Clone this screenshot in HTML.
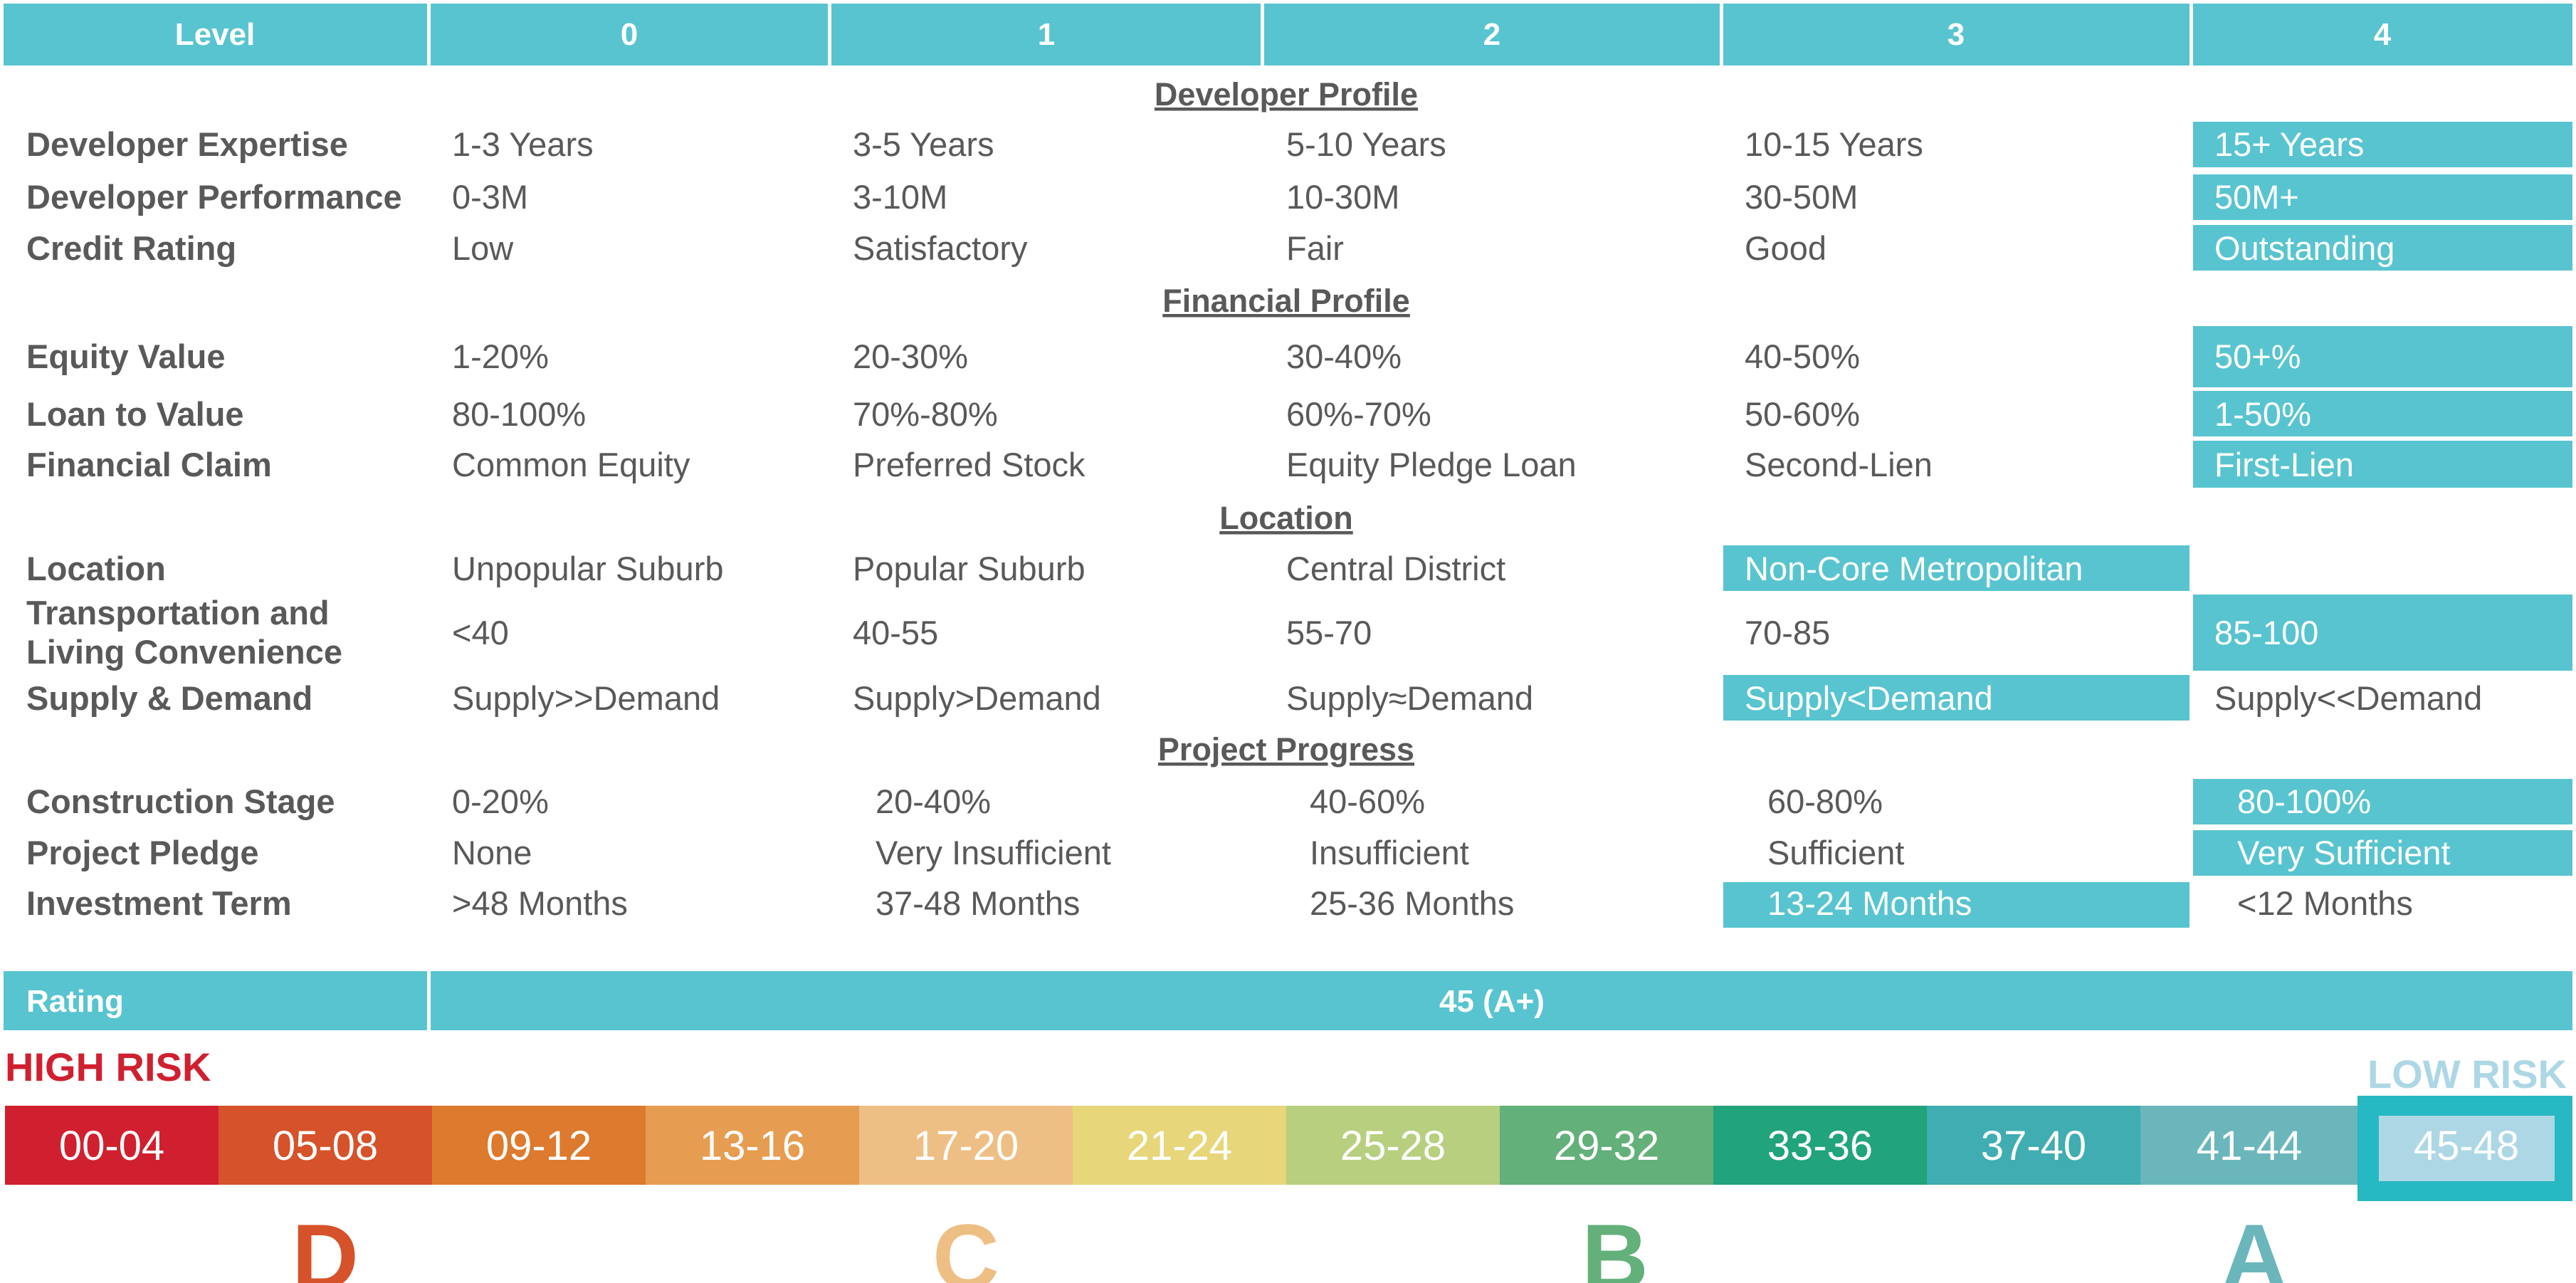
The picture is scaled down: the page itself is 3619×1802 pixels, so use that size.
<!DOCTYPE html>
<html><head><meta charset="utf-8"><style>html,body{margin:0;padding:0;background:#fff}svg{display:block}</style></head>
<body>
<svg width="3619" height="1802" viewBox="0 0 3619 1802" xmlns="http://www.w3.org/2000/svg" font-family="Liberation Sans, sans-serif">
<rect width="3619" height="1802" fill="#fff"/>
<g fill="#58c4cf">
<rect x="5" y="5" width="595" height="87"/><rect x="605" y="5" width="558" height="87"/><rect x="1168" y="5" width="603" height="87"/><rect x="1776" y="5" width="640" height="87"/><rect x="2421" y="5" width="655" height="87"/><rect x="3081" y="5" width="533" height="87"/>
<rect x="5" y="1364" width="595" height="83"/><rect x="605" y="1364" width="3009" height="83"/>
<rect x="3081" y="171" width="533" height="64"/><rect x="3081" y="245" width="533" height="64"/><rect x="3081" y="316" width="533" height="64"/>
<rect x="3081" y="458" width="533" height="86"/><rect x="3081" y="549" width="533" height="64"/><rect x="3081" y="619" width="533" height="66"/>
<rect x="2421" y="766" width="655" height="64"/><rect x="3081" y="835" width="533" height="107"/><rect x="2421" y="948" width="655" height="64"/>
<rect x="3081" y="1094" width="533" height="64"/><rect x="3081" y="1166" width="533" height="64"/><rect x="2421" y="1239" width="655" height="64"/>
</g>
<g fill="#fff" font-weight="bold" font-size="44" text-anchor="middle">
<text x="302" y="63">Level</text><text x="884" y="63">0</text><text x="1470" y="63">1</text><text x="2096" y="63">2</text><text x="2748" y="63">3</text><text x="3347" y="63">4</text>
<text x="2096" y="1421">45 (A+)</text>
<text x="37" y="1421" text-anchor="start">Rating</text>
</g>
<g fill="#595959" font-weight="bold" font-size="45" text-anchor="middle" text-decoration="underline">
<text x="1807" y="148">Developer Profile</text><text x="1807" y="438">Financial Profile</text><text x="1807" y="743">Location</text><text x="1807" y="1068">Project Progress</text>
</g>
<g fill="#595959" font-weight="bold" font-size="47">
<text x="37" y="219">Developer Expertise</text><text x="37" y="293">Developer Performance</text><text x="37" y="365">Credit Rating</text>
<text x="37" y="517">Equity Value</text><text x="37" y="598">Loan to Value</text><text x="37" y="669">Financial Claim</text>
<text x="37" y="815">Location</text><text x="37" y="877">Transportation and</text><text x="37" y="932">Living Convenience</text><text x="37" y="997">Supply &amp; Demand</text>
<text x="37" y="1142">Construction Stage</text><text x="37" y="1214">Project Pledge</text><text x="37" y="1285">Investment Term</text>
</g>
<g font-size="47" fill="#595959">
<text x="635" y="219">1-3 Years</text><text x="1198" y="219">3-5 Years</text><text x="1807" y="219">5-10 Years</text><text x="2451" y="219">10-15 Years</text><text x="3111" y="219" fill="#fff">15+ Years</text>
<text x="635" y="293">0-3M</text><text x="1198" y="293">3-10M</text><text x="1807" y="293">10-30M</text><text x="2451" y="293">30-50M</text><text x="3111" y="293" fill="#fff">50M+</text>
<text x="635" y="365">Low</text><text x="1198" y="365">Satisfactory</text><text x="1807" y="365">Fair</text><text x="2451" y="365">Good</text><text x="3111" y="365" fill="#fff">Outstanding</text>
<text x="635" y="517">1-20%</text><text x="1198" y="517">20-30%</text><text x="1807" y="517">30-40%</text><text x="2451" y="517">40-50%</text><text x="3111" y="517" fill="#fff">50+%</text>
<text x="635" y="598">80-100%</text><text x="1198" y="598">70%-80%</text><text x="1807" y="598">60%-70%</text><text x="2451" y="598">50-60%</text><text x="3111" y="598" fill="#fff">1-50%</text>
<text x="635" y="669">Common Equity</text><text x="1198" y="669">Preferred Stock</text><text x="1807" y="669">Equity Pledge Loan</text><text x="2451" y="669">Second-Lien</text><text x="3111" y="669" fill="#fff">First-Lien</text>
<text x="635" y="815">Unpopular Suburb</text><text x="1198" y="815">Popular Suburb</text><text x="1807" y="815">Central District</text><text x="2451" y="815" fill="#fff">Non-Core Metropolitan</text>
<text x="635" y="905">&lt;40</text><text x="1198" y="905">40-55</text><text x="1807" y="905">55-70</text><text x="2451" y="905">70-85</text><text x="3111" y="905" fill="#fff">85-100</text>
<text x="635" y="997">Supply&gt;&gt;Demand</text><text x="1198" y="997">Supply&gt;Demand</text><text x="1807" y="997">Supply≈Demand</text><text x="2451" y="997" fill="#fff">Supply&lt;Demand</text><text x="3111" y="997">Supply&lt;&lt;Demand</text>
<text x="635" y="1142">0-20%</text><text x="1230" y="1142">20-40%</text><text x="1840" y="1142">40-60%</text><text x="2483" y="1142">60-80%</text><text x="3143" y="1142" fill="#fff">80-100%</text>
<text x="635" y="1214">None</text><text x="1230" y="1214">Very Insufficient</text><text x="1840" y="1214">Insufficient</text><text x="2483" y="1214">Sufficient</text><text x="3143" y="1214" fill="#fff">Very Sufficient</text>
<text x="635" y="1285">&gt;48 Months</text><text x="1230" y="1285">37-48 Months</text><text x="1840" y="1285">25-36 Months</text><text x="2483" y="1285" fill="#fff">13-24 Months</text><text x="3143" y="1285">&lt;12 Months</text>
</g>
<text x="7" y="1518" font-size="56" font-weight="bold" fill="#d0202f">HIGH RISK</text>
<text x="3606" y="1528" font-size="56" font-weight="bold" fill="#add7e5" text-anchor="end">LOW RISK</text>
<g>
<rect x="7" y="1553" width="301" height="111" fill="#d0202f"/>
<rect x="307" y="1553" width="301" height="111" fill="#d5522a"/>
<rect x="607" y="1553" width="301" height="111" fill="#dd7a2e"/>
<rect x="907" y="1553" width="301" height="111" fill="#e69c51"/>
<rect x="1207" y="1553" width="301" height="111" fill="#eebf84"/>
<rect x="1507" y="1553" width="301" height="111" fill="#e7d67a"/>
<rect x="1807" y="1553" width="301" height="111" fill="#b7cf7f"/>
<rect x="2107" y="1553" width="301" height="111" fill="#63b07a"/>
<rect x="2407" y="1553" width="301" height="111" fill="#21a37b"/>
<rect x="2707" y="1553" width="301" height="111" fill="#3fadb1"/>
<rect x="3007" y="1553" width="305" height="111" fill="#6bb6bb"/>
<rect x="3312" y="1539" width="302" height="148" fill="#26b9c3"/>
<rect x="3342" y="1567" width="247" height="92" fill="#add7e5"/>
</g>
<g fill="#fff" font-size="58" text-anchor="middle">
<text x="157" y="1629">00-04</text><text x="457" y="1629">05-08</text><text x="757" y="1629">09-12</text><text x="1057" y="1629">13-16</text>
<text x="1357" y="1629">17-20</text><text x="1657" y="1629">21-24</text><text x="1957" y="1629">25-28</text><text x="2257" y="1629">29-32</text>
<text x="2557" y="1629">33-36</text><text x="2857" y="1629">37-40</text><text x="3160" y="1629">41-44</text><text x="3465" y="1629">45-48</text>
</g>
<g font-size="130" font-weight="bold" text-anchor="middle">
<text x="457" y="1810" fill="#d5522a">D</text>
<text x="1357" y="1810" fill="#eebf84">C</text>
<text x="2269" y="1810" fill="#63b07a">B</text>
<text x="3167" y="1810" fill="#6bb6bb">A</text>
</g>
</svg>
</body></html>
